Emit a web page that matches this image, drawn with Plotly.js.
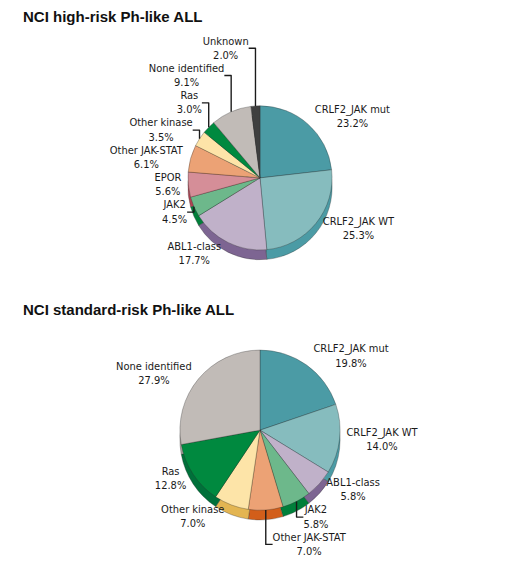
<!DOCTYPE html>
<html>
<head>
<meta charset="utf-8">
<script src="https://cdn.plot.ly/plotly-3.0.1.min.js"></script>
<style>
  html, body { margin: 0; padding: 0; background: #fff; }
  #chart { width: 520px; height: 572px; }
</style>
</head>
<body>
<div id="chart"></div>
<script>
// high-risk data (clockwise from 12 o'clock)
var hrLabels = ['CRLF2_JAK mut', 'CRLF2_JAK WT', 'ABL1-class', 'JAK2', 'EPOR',
                'Other JAK-STAT', 'Other kinase', 'Ras', 'None identified', 'Unknown'];
var hrValues = [23.2, 25.3, 17.7, 4.5, 5.6, 6.1, 3.5, 3.0, 9.1, 2.0];

// standard-risk data
var srLabels = ['CRLF2_JAK mut', 'CRLF2_JAK WT', 'ABL1-class', 'JAK2',
                'Other JAK-STAT', 'Other kinase', 'Ras', 'None identified'];
var srValues = [19.8, 14.0, 5.8, 5.8, 7.0, 7.0, 12.8, 27.9];

// top face / side wall colours per category
var topColor = {
  'CRLF2_JAK mut': '#4b9ba5', 'CRLF2_JAK WT': '#86bcbe', 'ABL1-class': '#c0b1c9',
  'JAK2': '#6db88b', 'EPOR': '#d58e98', 'Other JAK-STAT': '#eca275',
  'Other kinase': '#fde4a8', 'Ras': '#00893f', 'None identified': '#c1bbb7',
  'Unknown': '#3f3f3f'
};
var sideColor = {
  'CRLF2_JAK mut': '#3f8d97', 'CRLF2_JAK WT': '#4b9ba5', 'ABL1-class': '#7d6592',
  'JAK2': '#007f3a', 'EPOR': '#b04252', 'Other JAK-STAT': '#d25e1a',
  'Other kinase': '#e3b552', 'Ras': '#00703a', 'None identified': '#a9a39f',
  'Unknown': '#2a2a2a'
};

var font = {family: 'Liberation Sans Narrow, DejaVu Sans Condensed, Arial Narrow, sans-serif',
            size: 11, color: '#1a1a1a'};

function pieTrace(labels, values, colors, ydom, withText) {
  return {
    type: 'pie',
    labels: labels,
    values: values,
    sort: false,
    direction: 'clockwise',
    rotation: 0,
    domain: {x: [0.05, 0.95], y: ydom},
    marker: {colors: labels.map(function (l) { return colors[l]; }),
             line: {color: 'rgba(40,40,40,0.45)', width: 0.7}},
    textinfo: withText ? 'text' : 'none',
    texttemplate: withText ? '%{label}<br>%{value:.1f}%' : '',
    textposition: 'outside',
    outsidetextfont: font,
    hoverinfo: 'skip',
    showlegend: false
  };
}

var data = [
  pieTrace(hrLabels, hrValues, sideColor, [0.546, 0.798], false),
  pieTrace(hrLabels, hrValues, topColor, [0.563, 0.815], true),
  pieTrace(srLabels, srValues, sideColor, [0.091, 0.371], false),
  pieTrace(srLabels, srValues, topColor, [0.108, 0.388], true)
];

var layout = {
  width: 520,
  height: 572,
  margin: {t: 0, r: 0, b: 0, l: 0},
  paper_bgcolor: '#fff',
  font: font,
  annotations: [
    {text: '<b>NCI high-risk Ph-like ALL</b>', xref: 'paper', yref: 'paper',
     x: 0.04, y: 0.99, xanchor: 'left', yanchor: 'top', showarrow: false,
     font: {family: 'Liberation Sans, Arial, sans-serif', size: 15, color: '#111'}},
    {text: '<b>NCI standard-risk Ph-like ALL</b>', xref: 'paper', yref: 'paper',
     x: 0.04, y: 0.478, xanchor: 'left', yanchor: 'top', showarrow: false,
     font: {family: 'Liberation Sans, Arial, sans-serif', size: 15, color: '#111'}}
  ]
};

Plotly.newPlot('chart', data, layout, {displayModeBar: false, staticPlot: true});
</script>
</body>
</html>
